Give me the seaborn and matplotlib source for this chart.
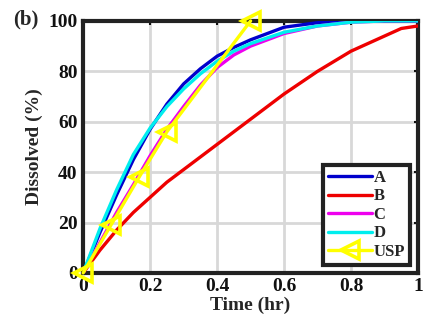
import numpy as np
import pandas as pd
import seaborn as sns
import matplotlib
matplotlib.use("Agg")
import matplotlib.pyplot as plt
from matplotlib.lines import Line2D

# Dissolution profiles (time in hours, percent dissolved)
t_model = [0, 0.05, 0.1, 0.15, 0.2, 0.25, 0.3, 0.35, 0.4, 0.45, 0.5, 0.6, 0.7, 0.8, 0.9, 0.95, 1.0]
a_vals = [0, 16, 31, 45, 57, 67, 75, 81, 86, 89.5, 92.5, 97.5, 99.3, 100, 100, 100, 100]
b_vals = [0, 9, 17, 24, 30, 36, 41, 46, 51, 56, 61, 71, 80, 88, 94, 97, 98]
c_vals = [0, 12, 24, 35, 46.5, 57, 66, 74.5, 81.5, 86.5, 90, 95, 98, 99.5, 100, 100, 100]
d_vals = [0, 17.5, 33, 47, 57.5, 66, 73, 79, 84, 88, 91, 95.5, 98, 99.5, 100, 100, 100]

t_usp = [0, 0.083, 0.167, 0.25, 0.5]
usp_vals = [0, 19, 38, 56, 100]

x_ticks = [0, 0.2, 0.4, 0.6, 0.8, 1]
y_ticks = [0, 20, 40, 60, 80, 100]

sns.set_style("white")
plt.rcParams["font.family"] = ["Liberation Serif", "DejaVu Serif"]
plt.rcParams["font.weight"] = "bold"

df = pd.concat([
    pd.DataFrame({"Time": t_model, "Dissolved": v, "Formulation": n})
    for n, v in [("A", a_vals), ("B", b_vals), ("C", c_vals), ("D", d_vals)]
])
palette = {"A": "#0000cc", "B": "#ee0000", "C": "#ee00ee", "D": "#00eeee"}
lw = 2.4

fig = plt.figure(figsize=(4.4, 3.32), dpi=100)
ax = fig.add_axes([0.189, 0.178, 0.761, 0.759])

sns.lineplot(data=df, x="Time", y="Dissolved", hue="Formulation", palette=palette,
             linewidth=lw, ax=ax, legend=False, zorder=3)
sns.lineplot(x=t_usp, y=usp_vals, color="#ffff00", linewidth=lw, marker="<",
             markersize=13, markerfacecolor="none", markeredgecolor="#ffff00",
             markeredgewidth=2.6, ax=ax, zorder=4, clip_on=False)

ax.set_xlim(0, 1)
ax.set_ylim(0, 100)
ax.set_xticks(x_ticks)
ax.set_xticklabels([f"{v:g}" for v in x_ticks])
ax.set_yticks(y_ticks)
ax.grid(True, color="#d8d8d8", linewidth=2)
ax.set_axisbelow(True)
for s in ax.spines.values():
    s.set_linewidth(3)
    s.set_color("#222222")
    s.set_visible(True)
ax.tick_params(direction="in", length=3, width=1.5, top=True, right=True,
               labelsize=14, pad=4, colors="#111111")
for lab in ax.get_xticklabels() + ax.get_yticklabels():
    lab.set_fontweight("bold")
ax.set_xlabel("Time (hr)", fontsize=14, fontweight="bold", labelpad=1)
ax.set_ylabel("Dissolved (%)", fontsize=14, fontweight="bold", labelpad=4)

fig.text(0.03, 0.925, "(b)", fontsize=15, fontweight="bold")

handles = [Line2D([], [], color=palette[k], linewidth=lw) for k in ["A", "B", "C", "D"]]
handles.append(Line2D([], [], color="#ffff00", linewidth=lw, marker="<", markersize=13,
                      markerfacecolor="none", markeredgewidth=2.6))
leg = ax.legend(handles, ["A", "B", "C", "D", "USP"], loc="lower right",
                bbox_to_anchor=(0.976, 0.032), prop={"size": 12, "weight": "bold"},
                handlelength=2.6, handletextpad=0.1, labelspacing=0.15,
                borderpad=0.3, borderaxespad=0, fancybox=False, framealpha=1)
leg.get_frame().set_edgecolor("#222222")
leg.get_frame().set_linewidth(3)
leg.set_zorder(10)

fig.savefig("out.png", dpi=100)
